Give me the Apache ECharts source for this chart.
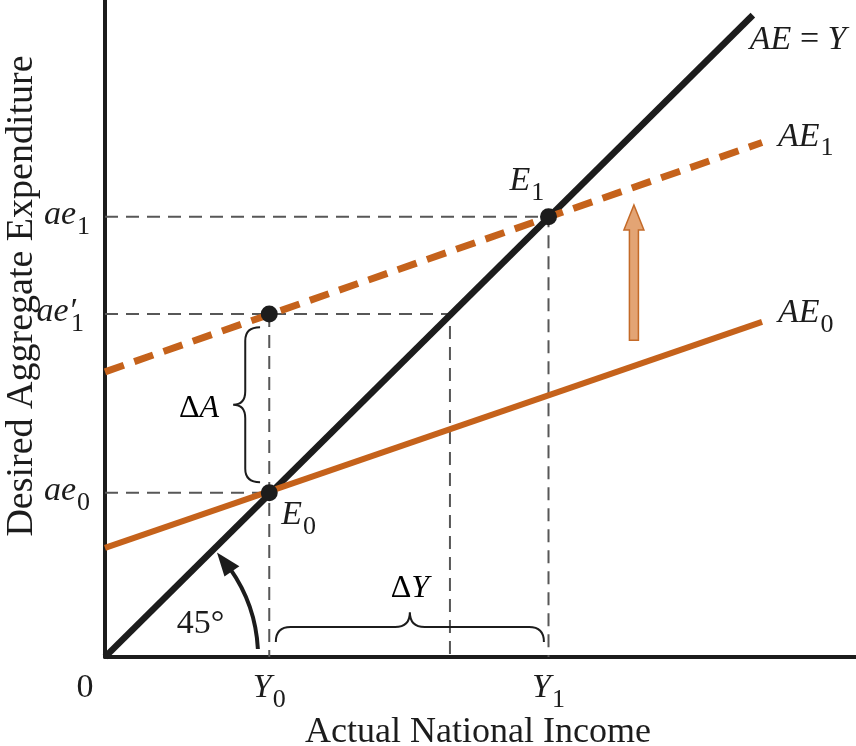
<!DOCTYPE html>
<html>
<head>
<meta charset="utf-8">
<script src="https://cdn.jsdelivr.net/npm/echarts@6/dist/echarts.min.js"></script>
<style>
  html, body { margin: 0; padding: 0; background: #fff; }
  #chart { width: 856px; height: 746px; }
</style>
</head>
<body>
<div id="chart"></div>
<script>
// same units on both axes, so AE = Y runs at 45 degrees
// label parts: [text, kind]  kind 0 = upright, 1 = italic, 2 = subscript
var xTicks = [0, 25, 67.5];
var xTickText = [[['0', 0]], [['Y', 1], ['0', 2]], [['Y', 1], ['1', 2]]];
var yTicks = [25, 52.2, 67];
var yTickText = [[['ae', 1], ['0', 2]], [['ae′', 1], ['1', 2]], [['ae', 1], ['1', 2]]];

var lineAEY = [[0, 0], [98.6, 97.7]];
var lineAE0 = [[0, 16.6], [100, 51]];
var lineAE1 = [[0, 43.4], [100, 78.3]];

// dashed guides to the axes
var guide1 = [[0, 67], [67.5, 67], [67.5, 0]];
var guide2 = [[0, 52.2], [52.5, 52.2], [52.5, 0]];
var guide3 = [[0, 25], [25, 25]];
var guide4 = [[25, 52.2], [25, 0]];

var points = [[25, 25], [25, 52.2], [67.5, 67]];

var curveNames = [
  [['AE', 1], [' = ', 0], ['Y', 1]],
  [['AE', 1], ['1', 2]],
  [['AE', 1], ['0', 2]],
  [['E', 1], ['0', 2]],
  [['E', 1], ['1', 2]]
];

var shiftArrow = [80.5, 48.2, 68.8];     // x, from y, to y
var braceA = [23.6, 50.2, 26.6, 4.1];    // x of ends, top y, bottom y, depth
var braceY = [26.0, 66.8, 2.3, 4.5];     // left x, right x, y of ends, depth
var arc45 = [23.3, 3, 43];               // radius, start deg, tip deg

var F = '"Liberation Serif", "DejaVu Serif", serif';
var INK = '#1c1c1c';
var ORANGE = '#c5621b';

var measureCtx = document.createElement('canvas').getContext('2d');
function fontOf(kind) {
  if (kind === 1) return 'italic 34px ' + F;
  if (kind === 2) return '26px ' + F;
  return '34px ' + F;
}
// lay out main text + subscripts as separate text elements
function mathText(x, y, parts, align) {
  var widths = parts.map(function (p) {
    measureCtx.font = fontOf(p[1]);
    return measureCtx.measureText(p[0]).width + (p[1] === 2 ? 1 : 0);
  });
  var total = widths.reduce(function (a, b) { return a + b; }, 0);
  var cx = align === 'right' ? x - total : align === 'center' ? x - total / 2 : x;
  var out = [];
  parts.forEach(function (p, k) {
    var px = cx + (p[1] === 2 ? 1 : 0);
    if (p[1] === 2 && parts[k - 1] && /′$/.test(parts[k - 1][0])) px -= 6;
    out.push({
      type: 'text', x: px, y: y + (p[1] === 2 ? 12 : 0),
      style: { text: p[0], font: fontOf(p[1]), fill: INK, align: 'left', verticalAlign: 'middle' }
    });
    cx += widths[k];
  });
  return out;
}

var rich = {
  d: { fontFamily: F, fontSize: 32, color: INK },
  di: { fontFamily: F, fontSize: 32, fontStyle: 'italic', color: INK }
};

function guide(data) {
  return {
    type: 'line', data: data, symbol: 'none', silent: true, z: 1,
    lineStyle: { color: '#575757', width: 2, type: [13, 8] }
  };
}

// pixel offsets of the curve / point names from their anchor
var nameOffsets = [[-3, 25], [16, -6], [16, -9], [12, 22], [-39, -36]];

var chart = echarts.init(document.getElementById('chart'));
var option = {
  animation: false,
  backgroundColor: '#fff',
  grid: { left: 105, right: 0, top: 0, bottom: 89, containLabel: false, outerBoundsMode: 'none' },
  xAxis: {
    type: 'value', min: 0, max: 114.3,
    axisLine: { onZero: false, lineStyle: { color: INK, width: 4 } },
    axisTick: { show: false },
    splitLine: { show: false },
    axisLabel: { show: false }
  },
  yAxis: {
    type: 'value', min: 0, max: 100,
    axisLine: { onZero: false, lineStyle: { color: INK, width: 4 } },
    axisTick: { show: false },
    splitLine: { show: false },
    axisLabel: { show: false }
  },
  graphic: [
    {
      type: 'text', x: 22, y: 296, rotation: Math.PI / 2,
      style: { text: 'Desired Aggregate Expenditure', font: '38px ' + F, fill: INK, align: 'center', verticalAlign: 'middle' }
    },
    {
      type: 'text', x: 478, y: 733,
      style: { text: 'Actual National Income', font: '36px ' + F, fill: INK, align: 'center', verticalAlign: 'middle' }
    }
  ],
  series: [
    guide(guide1), guide(guide2), guide(guide3), guide(guide4),
    {
      type: 'line', data: lineAEY, symbol: 'none', z: 3,
      lineStyle: { color: INK, width: 6.5 }
    },
    {
      type: 'line', data: lineAE0, symbol: 'none', z: 4,
      lineStyle: { color: ORANGE, width: 6 }
    },
    {
      type: 'line', data: lineAE1, symbol: 'none', z: 4,
      lineStyle: { color: ORANGE, width: 7, type: [20, 11] }
    },
    {
      type: 'scatter', data: points, symbolSize: 17, z: 6,
      itemStyle: { color: INK, opacity: 1 }
    },
    {
      // x tick labels
      type: 'custom', z: 7, silent: true,
      data: xTicks.map(function (v) { return [v, 0]; }),
      renderItem: function (params, api) {
        var p = api.coord([api.value(0), 0]);
        var parts = xTickText[params.dataIndex];
        var dx = parts.length === 1 ? -20 : 0;
        return { type: 'group', children: mathText(p[0] + dx, p[1] + 31, parts, 'center') };
      }
    },
    {
      // y tick labels
      type: 'custom', z: 7, silent: true,
      data: yTicks.map(function (v) { return [0, v]; }),
      renderItem: function (params, api) {
        var p = api.coord([0, api.value(1)]);
        return { type: 'group', children: mathText(p[0] - 15, p[1] - 2, yTickText[params.dataIndex], 'right') };
      }
    },
    {
      // curve names and equilibrium labels
      type: 'custom', z: 7, silent: true,
      data: [lineAEY[1], lineAE1[1], lineAE0[1], points[0], points[2]],
      renderItem: function (params, api) {
        var p = api.coord([api.value(0), api.value(1)]);
        var o = nameOffsets[params.dataIndex];
        return { type: 'group', children: mathText(p[0] + o[0], p[1] + o[1], curveNames[params.dataIndex], 'left') };
      }
    },
    {
      // upward shift arrow
      type: 'custom', z: 5, silent: true, data: [shiftArrow],
      renderItem: function (params, api) {
        var b = api.coord([api.value(0), api.value(1)]);
        var t = api.coord([api.value(0), api.value(2)]);
        var x = b[0], h = t[1] + 25;
        return {
          type: 'polygon',
          shape: { points: [[x - 4.5, b[1]], [x - 4.5, h], [x - 10, h], [x, t[1]], [x + 10, h], [x + 4.5, h], [x + 4.5, b[1]]] },
          style: { fill: '#e3a474', stroke: '#c46a28', lineWidth: 1.5 }
        };
      }
    },
    {
      // brace for delta A
      type: 'custom', z: 5, silent: true, data: [braceA],
      renderItem: function (params, api) {
        var pT = api.coord([api.value(0), api.value(1)]);
        var pB = api.coord([api.value(0), api.value(2)]);
        var d = api.size([api.value(3), 0])[0];
        var ex = pT[0], sx = ex - d * 0.55, tx = ex - d, ym = (pT[1] + pB[1]) / 2, r = d * 0.5;
        var p = 'M' + ex + ' ' + pT[1] +
          ' Q' + sx + ' ' + pT[1] + ' ' + sx + ' ' + (pT[1] + r) +
          ' L' + sx + ' ' + (ym - r) +
          ' Q' + sx + ' ' + ym + ' ' + tx + ' ' + ym +
          ' Q' + sx + ' ' + ym + ' ' + sx + ' ' + (ym + r) +
          ' L' + sx + ' ' + (pB[1] - r) +
          ' Q' + sx + ' ' + pB[1] + ' ' + ex + ' ' + pB[1];
        return {
          type: 'group', children: [
            { type: 'path', shape: { pathData: p }, style: { fill: 'none', stroke: INK, lineWidth: 2 } },
            {
              type: 'text', x: tx - 14, y: ym + 4,
              style: { text: '{d|Δ}{di|A}', rich: rich, align: 'right', verticalAlign: 'middle' }
            }
          ]
        };
      }
    },
    {
      // brace for delta Y
      type: 'custom', z: 5, silent: true, data: [braceY],
      renderItem: function (params, api) {
        var pL = api.coord([api.value(0), api.value(2)]);
        var pR = api.coord([api.value(1), api.value(2)]);
        var d = api.size([0, api.value(3)])[1];
        var ey = pL[1], sy = ey - d * 0.5, ty = ey - d, xm = (pL[0] + pR[0]) / 2, r = d * 0.5;
        var p = 'M' + pL[0] + ' ' + ey +
          ' Q' + pL[0] + ' ' + sy + ' ' + (pL[0] + r) + ' ' + sy +
          ' L' + (xm - r) + ' ' + sy +
          ' Q' + xm + ' ' + sy + ' ' + xm + ' ' + ty +
          ' Q' + xm + ' ' + sy + ' ' + (xm + r) + ' ' + sy +
          ' L' + (pR[0] - r) + ' ' + sy +
          ' Q' + pR[0] + ' ' + sy + ' ' + pR[0] + ' ' + ey;
        return {
          type: 'group', children: [
            { type: 'path', shape: { pathData: p }, style: { fill: 'none', stroke: INK, lineWidth: 2 } },
            {
              type: 'text', x: xm, y: ty - 24,
              style: { text: '{d|Δ}{di|Y}', rich: rich, align: 'center', verticalAlign: 'middle' }
            }
          ]
        };
      }
    },
    {
      // 45 degree arc arrow
      type: 'custom', z: 5, silent: true, data: [arc45],
      renderItem: function (params, api) {
        var c = api.coord([0, 0]);
        var r = api.size([api.value(0), 0])[0];
        var a0 = api.value(1) * Math.PI / 180;
        var aTip = api.value(2) * Math.PI / 180;
        var aBase = aTip - 9 * Math.PI / 180;
        function at(a, rr) { return [c[0] + rr * Math.cos(a), c[1] - rr * Math.sin(a)]; }
        var tip = at(aTip, r), b1 = at(aBase, r - 9), b2 = at(aBase, r + 9);
        var lab = at(19 * Math.PI / 180, r * 0.66);
        return {
          type: 'group', children: [
            {
              type: 'arc',
              shape: { cx: c[0], cy: c[1], r: r, startAngle: -a0, endAngle: -(aBase + 0.02), clockwise: false },
              style: { fill: 'none', stroke: INK, lineWidth: 4 }
            },
            { type: 'polygon', shape: { points: [tip, b1, b2] }, style: { fill: INK } },
            {
              type: 'text', x: lab[0], y: lab[1],
              style: { text: '45°', font: '34px ' + F, fill: INK, align: 'center', verticalAlign: 'middle' }
            }
          ]
        };
      }
    }
  ]
};
chart.setOption(option);
</script>
</body>
</html>
